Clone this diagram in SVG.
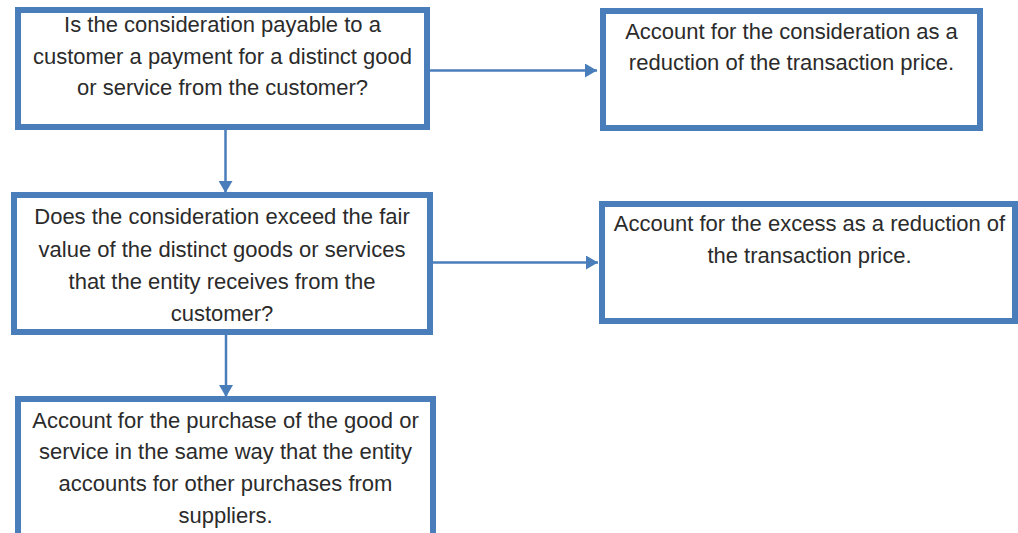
<svg xmlns="http://www.w3.org/2000/svg" width="1018" height="533" viewBox="0 0 1018 533">
<style>
.box{fill:#ffffff;stroke:#4a7ebb;stroke-width:6}
.t{font-family:"Liberation Sans",Arial,sans-serif;font-size:22px;fill:#2b2b2b;text-anchor:middle}
.c{stroke:#4a7ebb;stroke-width:2.5;fill:none}
</style>
<defs>
<marker id="ah" viewBox="0 0 12 14" refX="12" refY="7" markerWidth="12" markerHeight="14" markerUnits="userSpaceOnUse" orient="auto">
<path d="M0,0 L12,7 L0,14 Z" fill="#4a7ebb"/>
</marker>
</defs>
<rect width="1018" height="533" fill="#ffffff"/>
<g id="connectors">
<line class="c" x1="430" y1="70.5" x2="597" y2="70.5" marker-end="url(#ah)"/>
<line class="c" x1="433" y1="262.5" x2="598" y2="262.5" marker-end="url(#ah)"/>
<line class="c" x1="225.5" y1="130" x2="225.5" y2="193" marker-end="url(#ah)"/>
<line class="c" x1="226" y1="335" x2="226" y2="397" marker-end="url(#ah)"/>
</g>
<g id="q1">
<rect class="box" x="18" y="10" width="409" height="117"/>
<text class="t" x="222.5" y="32">Is the consideration payable to a</text>
<text class="t" x="222.5" y="63.5">customer a payment for a distinct good</text>
<text class="t" x="222.5" y="95">or service from the customer?</text>
</g>
<g id="a1">
<rect class="box" x="603" y="11" width="377" height="117"/>
<text class="t" x="791.5" y="38.5">Account for the consideration as a</text>
<text class="t" x="791.5" y="70">reduction of the transaction price.</text>
</g>
<g id="q2">
<rect class="box" x="14" y="195" width="416" height="137"/>
<text class="t" x="222" y="224">Does the consideration exceed the fair</text>
<text class="t" x="222" y="256.5">value of the distinct goods or services</text>
<text class="t" x="222" y="288.5">that the entity receives from the</text>
<text class="t" x="222" y="320.5">customer?</text>
</g>
<g id="a2">
<rect class="box" x="602" y="204" width="413" height="117"/>
<text class="t" x="809.5" y="230.5">Account for the excess as a reduction of</text>
<text class="t" x="809.5" y="262.5">the transaction price.</text>
</g>
<g id="a3">
<rect class="box" x="18" y="399" width="415" height="150"/>
<text class="t" x="225.5" y="427.5">Account for the purchase of the good or</text>
<text class="t" x="225.5" y="459">service in the same way that the entity</text>
<text class="t" x="225.5" y="490.5">accounts for other purchases from</text>
<text class="t" x="225.5" y="523">suppliers.</text>
</g>
</svg>
